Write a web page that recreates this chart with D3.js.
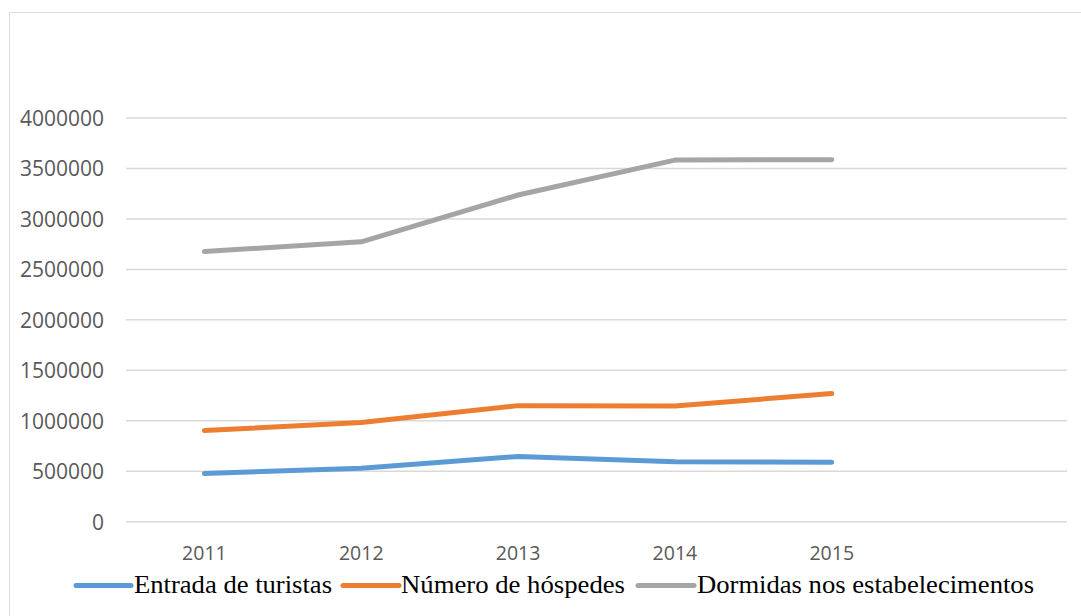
<!DOCTYPE html>
<html>
<head>
<meta charset="utf-8">
<script src="https://cdn.jsdelivr.net/npm/d3@7"></script>
<style>
  html, body { margin: 0; padding: 0; background: #fff; }
  svg { display: block; }
</style>
</head>
<body>
<svg id="chart" width="1081" height="616"></svg>
<script>
// Tourism indicators, 2011–2015
const years = ["2011", "2012", "2013", "2014", "2015"];
const entradaTuristas = [477000, 530000, 647000, 593000, 590000];
const numeroHospedes = [903000, 983000, 1150000, 1147000, 1270000];
const dormidas = [2677000, 2773000, 3237000, 3583000, 3587000];
const yTicks = [0, 500000, 1000000, 1500000, 2000000, 2500000, 3000000, 3500000, 4000000];
const seriesNames = ["Entrada de turistas", "Número de hóspedes", "Dormidas nos estabelecimentos"];
const seriesColors = ["#5b9bd5", "#ed7d31", "#a5a5a5"];

const series = [entradaTuristas, numeroHospedes, dormidas].map((values, i) => ({
  name: seriesNames[i],
  color: seriesColors[i],
  values: values.map((v, j) => ({ year: years[j], value: v }))
}));

const svg = d3.select("#chart");
const W = 1081, H = 616;

// outer chart frame
svg.append("path")
  .attr("d", `M9.5,${H} L9.5,12.5 L${W},12.5`)
  .attr("fill", "none")
  .attr("stroke", "#d9d9d9")
  .attr("stroke-width", 1);

const plotLeft = 126, plotRight = 1067;
const yTop = 118, yBottom = 521.7;
// the category axis leaves one empty slot on the right
const slot = (plotRight - plotLeft) / (years.length + 1);

const x = d3.scaleBand()
  .domain(years)
  .range([plotLeft, plotLeft + slot * years.length])
  .paddingInner(0).paddingOuter(0);

const y = d3.scaleLinear()
  .domain([0, 4000000])
  .range([yBottom, yTop]);

// horizontal gridlines
svg.append("g")
  .selectAll("line")
  .data(yTicks)
  .join("line")
  .attr("x1", plotLeft)
  .attr("x2", plotRight)
  .attr("y1", d => y(d))
  .attr("y2", d => y(d))
  .attr("stroke", "#d9d9d9")
  .attr("stroke-width", 1.5);

// y axis labels
const yAxis = d3.axisLeft(y).tickValues(yTicks).tickSize(0).tickPadding(0)
  .tickFormat(d3.format("d"));
const gy = svg.append("g").attr("transform", "translate(104,0)").call(yAxis);
gy.select(".domain").remove();
gy.selectAll("text")
  .attr("fill", "#595959")
  .style("font-family", "'Open Sans', sans-serif")
  .style("font-size", "21px")
  .attr("dy", "0.35em");

// x axis labels
const xAxis = d3.axisBottom(x).tickSize(0).tickPadding(0);
const gx = svg.append("g").attr("transform", "translate(0,553)").call(xAxis);
gx.select(".domain").remove();
gx.selectAll("text")
  .attr("fill", "#595959")
  .style("font-family", "'Open Sans', sans-serif")
  .style("font-size", "19.5px")
  .attr("dy", "0.35em");

// series lines
const line = d3.line()
  .x(d => x(d.year) + x.bandwidth() / 2)
  .y(d => y(d.value));

svg.append("g")
  .selectAll("path")
  .data(series)
  .join("path")
  .attr("d", d => line(d.values))
  .attr("fill", "none")
  .attr("stroke", d => d.color)
  .attr("stroke-width", 5)
  .attr("stroke-linecap", "round")
  .attr("stroke-linejoin", "round");

// legend
const legendItems = [
  { x0: 76, x1: 131, tx: 134, tw: 198 },
  { x0: 343, x1: 399, tx: 401, tw: 224 },
  { x0: 638, x1: 694, tx: 697, tw: 337 }
];
const legendY = 585.5;
const lg = svg.append("g");
series.forEach((s, i) => {
  const it = legendItems[i];
  lg.append("line")
    .attr("x1", it.x0).attr("x2", it.x1)
    .attr("y1", legendY).attr("y2", legendY)
    .attr("stroke", s.color)
    .attr("stroke-width", 5)
    .attr("stroke-linecap", "round");
  lg.append("text")
    .attr("x", it.tx)
    .attr("y", 593)
    .attr("textLength", it.tw)
    .attr("lengthAdjust", "spacingAndGlyphs")
    .style("font-family", "'Liberation Serif', 'Times New Roman', serif")
    .style("font-size", "26px")
    .attr("fill", "#000")
    .text(s.name);
});
</script>
</body>
</html>
